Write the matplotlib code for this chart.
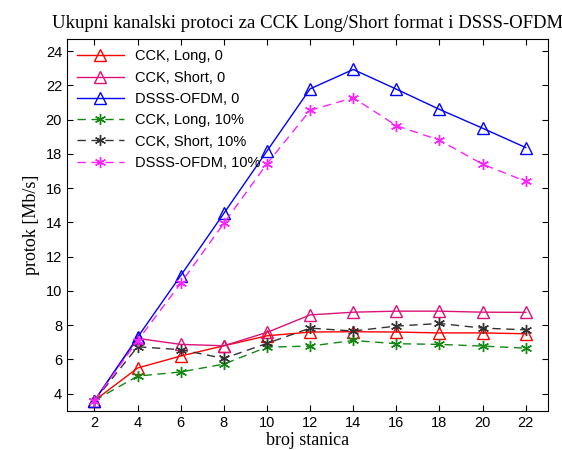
import numpy as np
import matplotlib.pyplot as plt

# broj stanica
stanice = [2, 4, 6, 8, 10, 12, 14, 16, 18, 20, 22]

# protok [Mb/s], bez gubitaka
cck_long_0 = [3.6, 5.5, 6.2, 6.8, 7.38, 7.6, 7.62, 7.6, 7.55, 7.55, 7.5]
cck_short_0 = [3.6, 7.23, 6.88, 6.8, 7.58, 8.6, 8.76, 8.82, 8.82, 8.76, 8.75]
dsss_ofdm_0 = [3.6, 7.3, 10.9, 14.53, 18.17, 21.8, 22.93, 21.78, 20.6, 19.5, 18.37]

# protok [Mb/s], 10% gubitaka
cck_long_10 = [3.6, 5.03, 5.27, 5.73, 6.72, 6.78, 7.11, 6.92, 6.88, 6.78, 6.66]
cck_short_10 = [3.6, 6.74, 6.57, 6.06, 6.94, 7.83, 7.66, 7.95, 8.1, 7.83, 7.73]
dsss_ofdm_10 = [3.6, 7.1, 10.45, 13.95, 17.43, 20.54, 21.28, 19.65, 18.8, 17.4, 16.4]

oznake = ['CCK, Long, 0', 'CCK, Short, 0', 'DSSS-OFDM, 0',
          'CCK, Long, 10%', 'CCK, Short, 10%', 'DSSS-OFDM, 10%']

fig = plt.figure(figsize=(5.62, 4.5), dpi=100)
ax = fig.add_axes([0.119, 0.087, 0.856, 0.826])

tri = dict(marker='^', markersize=9, markerfacecolor='none', markeredgewidth=1.0, linewidth=1.0)
star = dict(marker=(6, 2, 0), markersize=8, markeredgewidth=1.0, linewidth=1.0, dashes=(6, 4))

ax.plot(stanice, cck_long_0, color='#ff0000', label=oznake[0], **tri)
ax.plot(stanice, cck_short_0, color='#dd1177', label=oznake[1], **tri)
ax.plot(stanice, dsss_ofdm_0, color='#0000ff', label=oznake[2], **tri)
ax.plot(stanice, cck_long_10, color='#118811', label=oznake[3], **star)
ax.plot(stanice, cck_short_10, color='#333333', label=oznake[4], **star)
ax.plot(stanice, dsss_ofdm_10, color='#ff22ff', label=oznake[5], **star)

ax.set_xlim(0.72, 23.03)
ax.set_ylim(3.0, 24.7)
ax.set_xticks(stanice)
ax.set_yticks(np.arange(4, 25, 2))
ax.tick_params(direction='in', top=True, right=True, length=4, labelsize=10.5)
for lbl in ax.get_xticklabels() + ax.get_yticklabels():
    lbl.set_family('Liberation Sans')

ax.set_title('Ukupni kanalski protoci za CCK Long/Short format i DSSS-OFDM',
             family='Liberation Serif', fontsize=13.5, pad=8)
ax.set_xlabel('broj stanica', family='Liberation Serif', fontsize=13, labelpad=2)
ax.set_ylabel('protok [Mb/s]', family='Liberation Serif', fontsize=13, labelpad=4)

leg = ax.legend(loc='upper left', frameon=False, prop={'family': 'Liberation Sans', 'size': 10.5},
                handlelength=3.2, labelspacing=0.5, borderaxespad=0.3)

fig.savefig('out.png', dpi=100)
